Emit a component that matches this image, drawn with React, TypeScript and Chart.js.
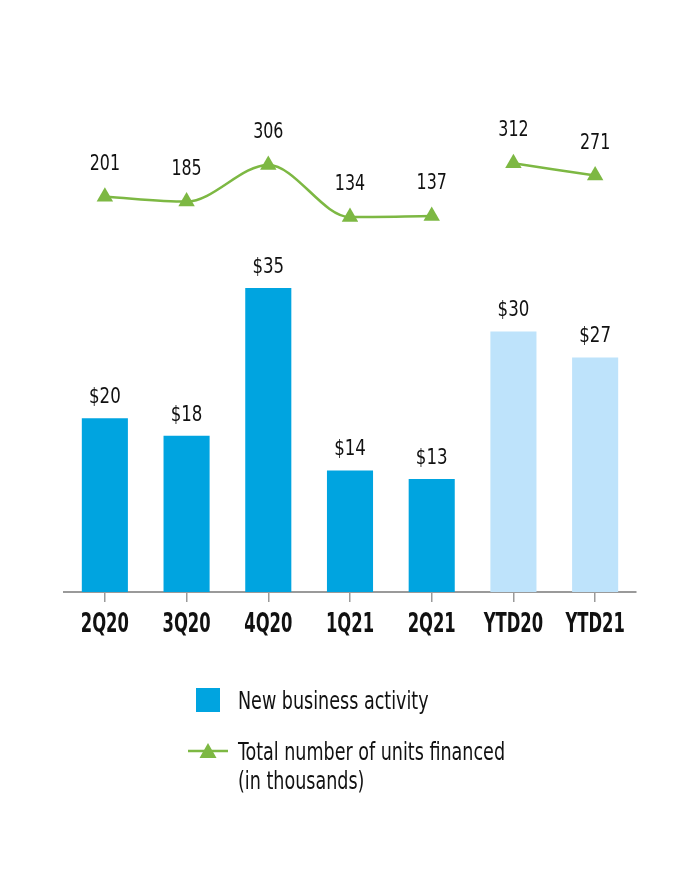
import React, { useEffect, useRef } from "react";
import { Chart, registerables } from "chart.js";
Chart.register(...registerables);

const categories = ["2Q20", "3Q20", "4Q20", "1Q21", "2Q21", "YTD20", "YTD21"];
const newBusiness = [20, 18, 35, 14, 13, 30, 27];
const unitsFinanced = [201, 185, 306, 134, 137, 312, 271];
const ytdStartIndex = 5;

const BLUE = "#00A4E0";
const LIGHT = "#BEE3FB";
const GREEN = "#7DB843";
const AXIS = "#9a9a9a";
const FONT = "'DejaVu Sans Condensed', 'DejaVu Sans', sans-serif";

function drawSqueezed(ctx: CanvasRenderingContext2D, text: string, x: number, y: number, sx: number) {
  ctx.save();
  ctx.translate(x, y);
  ctx.scale(sx, 1);
  ctx.fillText(text, 0, 0);
  ctx.restore();
}

const valueLabels = {
  id: "valueLabels",
  afterDatasetsDraw(chart: any) {
    const ctx = chart.ctx;
    ctx.save();
    ctx.font = `21px ${FONT}`;
    ctx.fillStyle = "#111";
    ctx.textAlign = "center";
    ctx.textBaseline = "alphabetic";
    chart.data.datasets.forEach((ds: any, i: number) => {
      const meta = chart.getDatasetMeta(i);
      meta.data.forEach((el: any, j: number) => {
        const v = ds.data[j];
        if (v == null) return;
        if (ds.type === "bar") drawSqueezed(ctx, "$" + v, el.x, el.y - 15, 0.88);
        else drawSqueezed(ctx, String(v), el.x, el.y - 27, 0.84);
      });
    });
    // category labels under the x axis, placed by the x scale
    const xs = chart.scales.x;
    ctx.font = `bold 26px ${FONT}`;
    xs.getLabels().forEach((lab: string, i: number) => {
      drawSqueezed(ctx, lab, xs.getPixelForTick(i), chart.chartArea.bottom + 40, 0.7);
    });
    ctx.restore();
  },
};

export default function App() {
  const ref = useRef<HTMLCanvasElement | null>(null);
  useEffect(() => {
    if (!ref.current) return;
    const quarterly = unitsFinanced.map((v, i) => (i < ytdStartIndex ? v : null));
    const ytd = unitsFinanced.map((v, i) => (i >= ytdStartIndex ? v : null));
    const lineBase = {
      type: "line" as const,
      yAxisID: "y1",
      borderColor: GREEN,
      borderWidth: 2.5,
      pointStyle: "triangle",
      pointRadius: 9.5,
      pointHoverRadius: 9.5,
      pointBackgroundColor: GREEN,
      pointBorderWidth: 0,
      cubicInterpolationMode: "monotone" as const,
      spanGaps: false,
    };
    const chart = new Chart(ref.current, {
      type: "bar",
      data: {
        labels: categories,
        datasets: [
          {
            type: "bar",
            label: "New business activity",
            data: newBusiness,
            backgroundColor: newBusiness.map((_, i) => (i < ytdStartIndex ? BLUE : LIGHT)),
            barPercentage: 0.564,
            categoryPercentage: 1,
            yAxisID: "y",
          } as any,
          { ...lineBase, label: "Total number of units financed", data: quarterly } as any,
          { ...lineBase, label: "Total number of units financed (YTD)", data: ytd } as any,
        ],
      },
      options: {
        responsive: false,
        animation: false,
        layout: { padding: { left: 64, right: 64, top: 100, bottom: 278 } },
        plugins: { legend: { display: false }, tooltip: { enabled: false } },
        scales: {
          x: {
            grid: {
              display: true,
              drawOnChartArea: false,
              drawTicks: true,
              tickLength: 10,
              color: AXIS,
              lineWidth: 1.5,
              offset: false,
            },
            border: { display: true, color: AXIS, width: 2 },
            ticks: { display: false },
          },
          y: { display: false, min: 0, max: 56.64 },
          y1: { display: false, min: -1106, max: 521 },
        },
      },
      plugins: [valueLabels],
    });
    return () => chart.destroy();
  }, []);

  const textStyle: React.CSSProperties = {
    position: "absolute",
    fontFamily: FONT,
    fontSize: 25,
    color: "#111",
    whiteSpace: "nowrap",
    transform: "scaleX(0.78)",
    transformOrigin: "left center",
  };

  return (
    <div style={{ position: "absolute", left: 0, top: 0, width: 700, height: 880, background: "#fff" }}>
      <canvas ref={ref} width={700} height={880} style={{ position: "absolute", left: 0, top: 0 }} />
      <div style={{ position: "absolute", left: 196, top: 688, width: 24, height: 24, background: BLUE }} />
      <div style={{ ...textStyle, left: 238, top: 687, lineHeight: "28px" }}>New business activity</div>
      <svg style={{ position: "absolute", left: 186, top: 739 }} width={44} height={24}>
        <line x1={2} y1={12} x2={42} y2={12} stroke={GREEN} strokeWidth={2.5} />
        <polygon points="22,4 30.5,19 13.5,19" fill={GREEN} />
      </svg>
      <div style={{ ...textStyle, left: 238, top: 737, lineHeight: "29px" }}>
        Total number of units financed
        <br />
        (in thousands)
      </div>
    </div>
  );
}
